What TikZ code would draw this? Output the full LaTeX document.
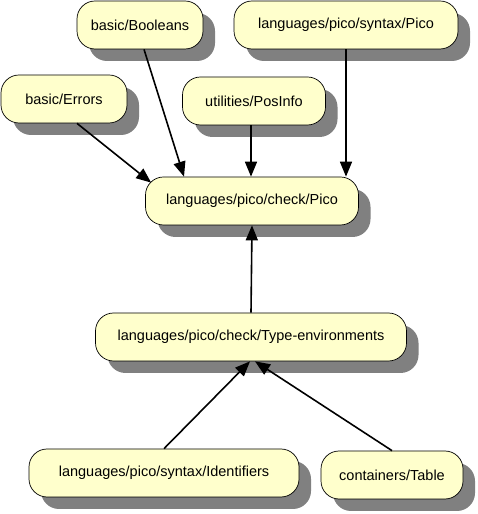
\documentclass[tikz,border=0pt]{standalone}
\usepackage{tikz}
\usepackage{xcolor}
\usepackage{fontspec}
\setmainfont{Liberation Sans}
\usetikzlibrary{shadows}
\usetikzlibrary{arrows.meta}
\definecolor{modfill}{HTML}{FFFFCC}
\definecolor{modshadow}{HTML}{808080}

\begin{document}
\begin{tikzpicture}[x=1pt,y=1pt,
  module/.style={draw=black, line width=0.7pt, fill=modfill, rounded corners=18pt,
    minimum height=48pt, inner xsep=0pt, font=\fontsize{14.5}{16}\selectfont,
    drop shadow={shadow xshift=12pt, shadow yshift=-12pt, fill=modshadow, opacity=1}},
  imports/.style={line width=1.6pt, -{Triangle[length=15pt,width=12pt]}}]
\useasboundingbox (0,0) rectangle (478,514);

\node[module, minimum width=126pt] (bool) at (140,489) {basic/Booleans};
\node[module, minimum width=224pt] (synpico) at (346,489) {languages/pico/syntax/Pico};
\node[module, minimum width=126pt] (errors) at (64,415) {basic/Errors};
\node[module, minimum width=143pt] (posinfo) at (254,413) {utilities/PosInfo};
\node[module, minimum width=213pt] (chkpico) at (252,313) {languages/pico/check/Pico};
\node[module, minimum width=311pt] (typeenv) at (251,177) {languages/pico/check/Type-environments};
\node[module, minimum width=270pt] (idents) at (164,41) {languages/pico/syntax/Identifiers};
\node[module, minimum width=142pt] (table) at (392,39) {containers/Table};

\draw[imports] ([xshift=4pt]bool.south) -- ([xshift=-68pt]chkpico.north);
\draw[imports] ([xshift=13pt]errors.south) -- ([shift={(6pt,-6pt)}]chkpico.north west);
\draw[imports] ([xshift=-3pt]posinfo.south) -- ([xshift=-3pt]posinfo.south |- chkpico.north);
\draw[imports] (synpico.south) -- (synpico.south |- chkpico.north);
\draw[imports] (typeenv.north) -- (chkpico.south);
\draw[imports] (idents.north) -- ([xshift=-1pt]typeenv.south);
\draw[imports] (table.north) -- ([xshift=4pt]typeenv.south);
\end{tikzpicture}
\end{document}
